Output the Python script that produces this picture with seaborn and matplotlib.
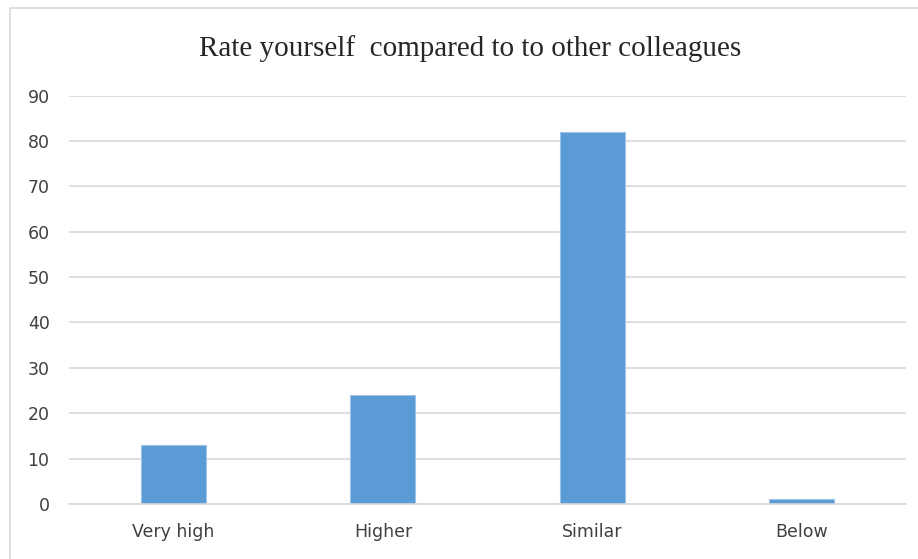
import matplotlib.pyplot as plt
import matplotlib.patches as patches
import pandas as pd
import seaborn as sns

categories = ['Very high', 'Higher', 'Similar', 'Below']
counts = [13, 24, 82, 1]
y_ticks = [0, 10, 20, 30, 40, 50, 60, 70, 80, 90]

df = pd.DataFrame({'category': categories, 'count': counts})

sns.set_style('white')
plt.rcParams['font.family'] = ['DejaVu Sans']

fig = plt.figure(figsize=(9.18, 5.59), dpi=100)
ax = fig.add_axes([0.0752, 0.0984, 0.9118, 0.7306])

sns.barplot(data=df, x='category', y='count', color='#5B9BD5', width=0.31,
            saturation=1, edgecolor='#9DC3E6', linewidth=0.8, ax=ax)

ax.set_ylim(0, 90)
ax.set_xlim(-0.5, 3.5)
ax.set_yticks(y_ticks)
ax.yaxis.grid(True, color='#D9D9D9', linewidth=1.2)
ax.set_axisbelow(True)
for side in ['top', 'right', 'left']:
    ax.spines[side].set_visible(False)
ax.spines['bottom'].set_color('#D9D9D9')
ax.spines['bottom'].set_linewidth(1.2)
ax.tick_params(axis='both', length=0, labelsize=12.5, labelcolor='#404040')
ax.tick_params(axis='y', pad=14)
ax.tick_params(axis='x', pad=14)
ax.set_xlabel(None)
ax.set_ylabel(None)

fig.text(0.512, 0.914, 'Rate yourself  compared to to other colleagues',
         ha='center', va='center', fontsize=21, family='Liberation Serif')

# chart area border
fig.patches.append(patches.Rectangle((10 / 918, -0.1), 1.2, (559 - 8) / 559 + 0.1,
                                     transform=fig.transFigure, fill=False,
                                     edgecolor='#D9D9D9', linewidth=1.2))

fig.savefig('out.png', dpi=100)
